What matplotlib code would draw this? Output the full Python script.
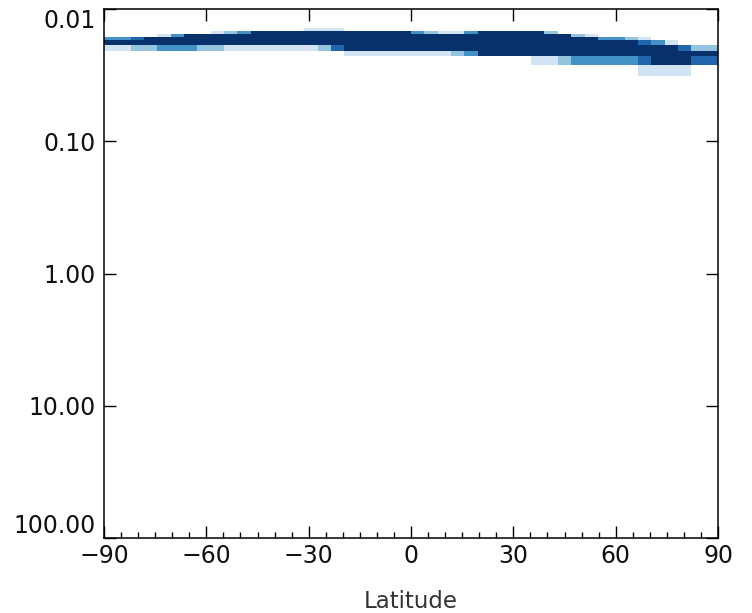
import numpy as np
import matplotlib
matplotlib.use("Agg")
import matplotlib.pyplot as plt
from matplotlib.colors import ListedColormap, BoundaryNorm
from matplotlib.ticker import MultipleLocator, NullLocator

# ---------------------------------------------------
# Data: occurrence class on a latitude / pressure grid
# ---------------------------------------------------

# 46 latitude bands, pole to pole
lat_edges = np.linspace(-90, 90, 47)

# layer boundaries, top to bottom
p_edges = [0.0140, 0.0147, 0.0155, 0.0163, 0.0172, 0.0187, 0.0208, 0.0227, 0.0265, 0.0321]

# one string per layer, one digit per latitude band (0 = empty, 1..5 light to dark)
layers = [
    "0" * 15 + "111" + "0" * 28,
    "0" * 8 + "123" + "5" * 12 + "3211" + "3" + "5" * 5 + "2" + "0" * 12,
    "0" * 4 + "13" + "5" * 29 + "21" + "0" * 9,
    "334" + "5" * 34 + "3321" + "0" * 5,
    "5" * 40 + "431" + "0" * 3,
    "1122333221111111" + "24" + "5" * 25 + "422",
    "0" * 18 + "1" * 8 + "23" + "5" * 18,
    "0" * 32 + "112" + "33333" + "4" + "555" + "44",
    "0" * 40 + "1111" + "00",
]

class_colors = ["#d2e3f3", "#94c5df", "#4292c6", "#2166ac", "#08306b"]

y_ticks = [0.01, 0.1, 1, 10, 100]
y_labels = ["0.01", "0.10", "1.00", "10.00", "100.00"]
x_ticks = [-90, -60, -30, 0, 30, 60, 90]

# ---------------------------------------------------
# Plot
# ---------------------------------------------------

plt.rcParams['font.family'] = ['DejaVu Sans']

fig = plt.figure(figsize=(7.52, 6.13), dpi=100)
ax = fig.add_axes([104/752, 1 - 538/613, 614/752, 529/613])

grid = np.array([[int(c) for c in row] for row in layers])
grid = np.ma.masked_equal(grid, 0)

cmap = ListedColormap(class_colors)
norm = BoundaryNorm([0.5, 1.5, 2.5, 3.5, 4.5, 5.5], cmap.N)

ax.pcolormesh(lat_edges, p_edges, grid, cmap=cmap, norm=norm,
              edgecolors='none', antialiased=False)

ax.set_yscale('log')
ax.set_ylim(100, 0.01)
ax.set_xlim(-90, 90)

ax.set_yticks(y_ticks)
ax.set_yticklabels(y_labels)
ax.yaxis.set_minor_locator(NullLocator())
ax.set_xticks(x_ticks)
ax.set_xticklabels([str(t).replace('-', '\u2212') for t in x_ticks])
ax.xaxis.set_minor_locator(MultipleLocator(5))

ax.tick_params(axis='both', which='major', direction='in', length=8.5,
               width=1.0, labelsize=17, color='black', labelcolor='#111111')
ax.tick_params(axis='x', which='major', top=True, pad=4)
ax.tick_params(axis='x', which='minor', direction='in', length=4, width=1.0,
               bottom=True, top=False)
ax.tick_params(axis='y', which='major', right=True, pad=6)

labels = ax.get_yticklabels()
labels[0].set_va('top')
labels[-1].set_va('bottom')

for s in ax.spines.values():
    s.set_linewidth(1.1)

ax.set_xlabel("Latitude", fontsize=16.5, labelpad=16, color='#333333')

fig.savefig("out.png", dpi=100)
